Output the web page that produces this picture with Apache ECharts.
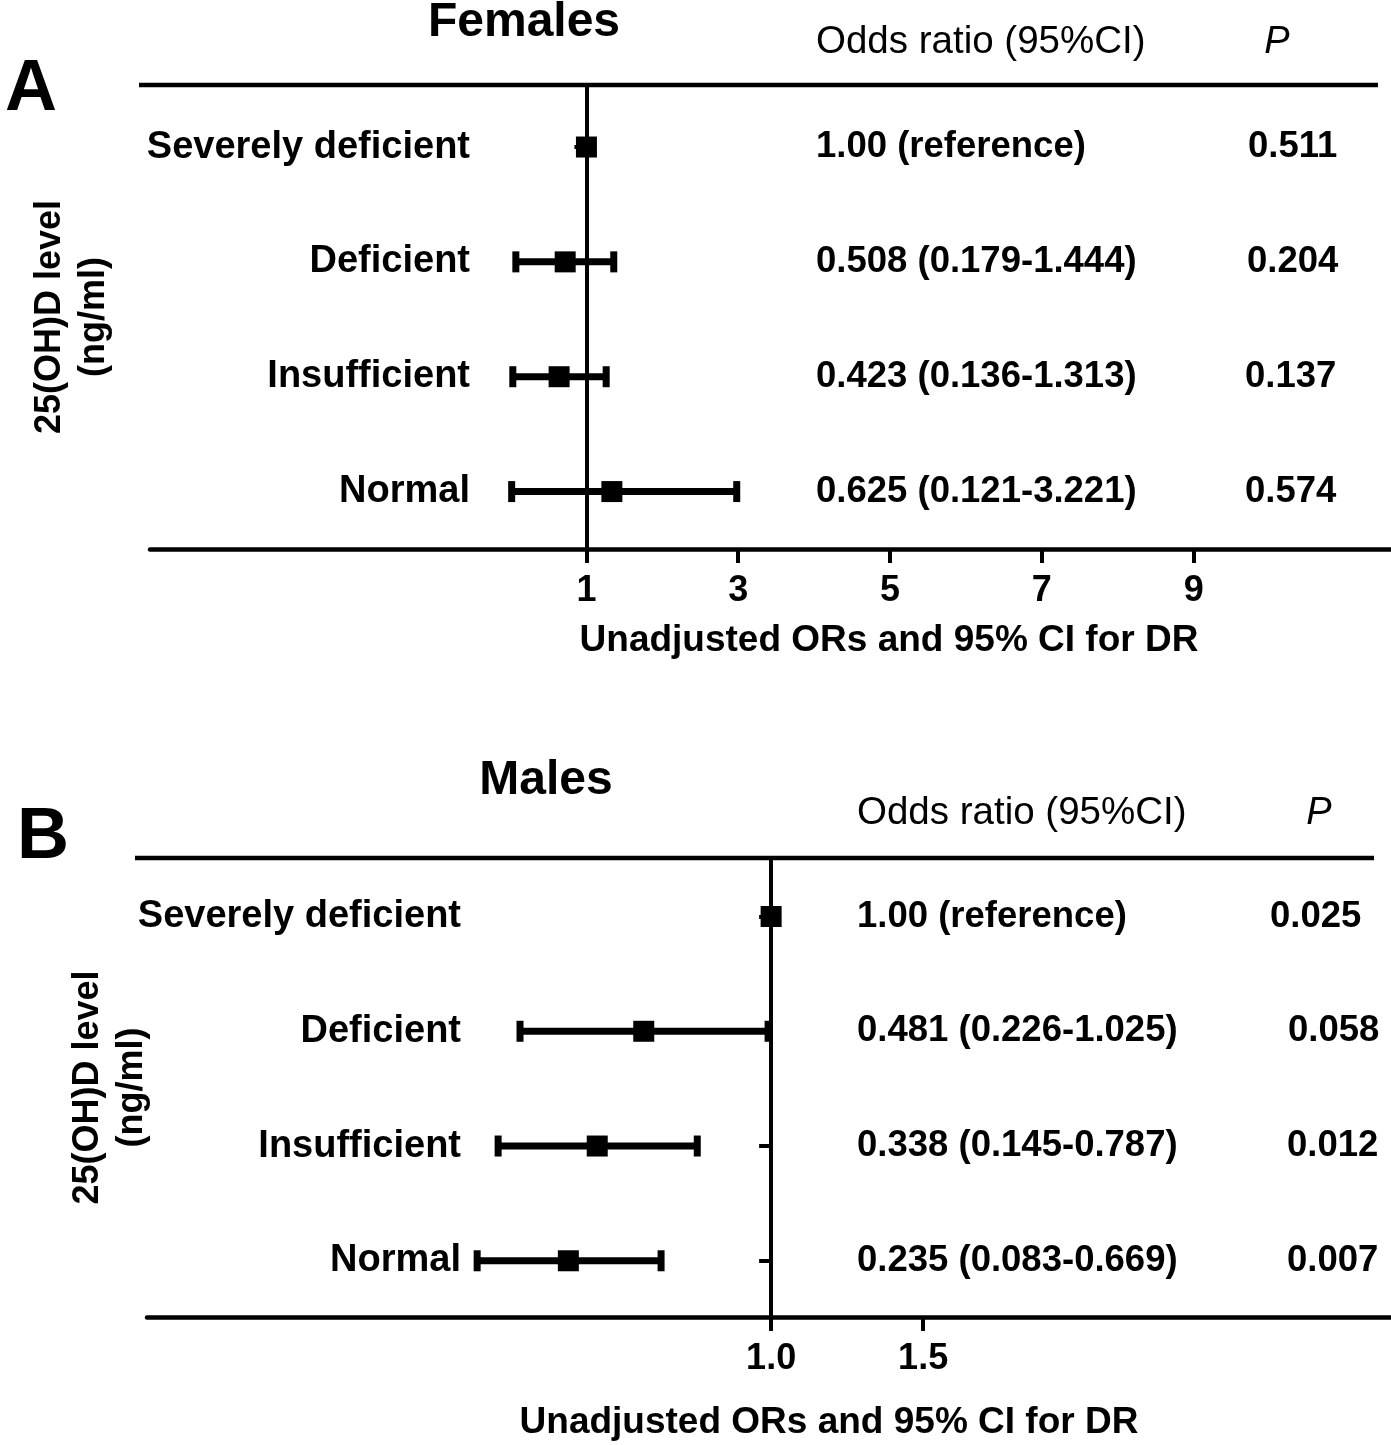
<!DOCTYPE html>
<html><head><meta charset="utf-8">
<script src="https://cdn.jsdelivr.net/npm/echarts@6/dist/echarts.min.js"></script>
<style>html,body{margin:0;padding:0;background:#fff}#c{width:1391px;height:1445px}</style>
</head><body><div id="c"></div>
<script>
// ---------- data ----------
const categories = ['Severely deficient', 'Deficient', 'Insufficient', 'Normal'];
const rows = [1, 2, 3, 4];

// Panel A (Females): plotted positions
const femaleOR   = [1.0, 0.72, 0.64, 1.335];
const femaleLow  = [null, 0.07, 0.03, 0.015];
const femaleHigh = [null, 1.36, 1.26, 2.98];
const femaleORText = ['1.00 (reference)', '0.508 (0.179-1.444)', '0.423 (0.136-1.313)', '0.625 (0.121-3.221)'];
const femaleP = ['0.511', '0.204', '0.137', '0.574'];
const femaleTicks = [1, 3, 5, 7, 9];

// Panel B (Males)
const maleOR   = [1.0, 0.581, 0.428, 0.333];
const maleLow  = [null, 0.174, 0.102, 0.033];
const maleHigh = [null, 0.99, 0.757, 0.638];
const maleORText = ['1.00 (reference)', '0.481 (0.226-1.025)', '0.338 (0.145-0.787)', '0.235 (0.083-0.669)'];
const maleP = ['0.025', '0.058', '0.012', '0.007'];
const maleTicks = [1.0, 1.5];

const axisTitle = 'Unadjusted ORs and 95% CI for DR';
const yTitle = '25(OH)D level\n(ng/ml)';

// ---------- layout ----------
const FF = "'Liberation Sans', Arial, Helvetica, sans-serif";
const W = 1391;
const panels = [
  { grid: {left: 150, top: 85, width: W - 150, height: 464}, x: {min: -4.75, max: 11.6}, y: {min: 0.46, max: 4.5},
    or: femaleOR, lo: femaleLow, hi: femaleHigh, ticks: femaleTicks, fmt: v => String(v), tickFont: 36,
    labelRight: 470, orText: femaleORText, p: femaleP, orX: 816, pXs: [1248, 1247, 1245, 1245], headerY: 42, hPx: 1277,
    title: 'Females', titleX: 524, titleY: 23, letter: 'A', letterX: 31, letterY: 90,
    ruleY: 85, ruleX1: 139, ruleX2: 1378, axTitleX: 889, axTitleY: 641, yTitleX: 72 },
  { grid: {left: 147, top: 858, width: W - 147, height: 459}, x: {min: -1.053, max: 3.039}, y: {min: 0.49, max: 4.49},
    or: maleOR, lo: maleLow, hi: maleHigh, ticks: maleTicks, fmt: v => Number(v).toFixed(1), tickFont: 36,
    labelRight: 461, orText: maleORText, p: maleP, orX: 857, pXs: [1270, 1288, 1287, 1287], headerY: 813, hPx: 1319,
    title: 'Males', titleX: 546, titleY: 781, letter: 'B', letterX: 43, letterY: 838,
    ruleY: 858, ruleX1: 135, ruleX2: 1374, axTitleX: 829, axTitleY: 1423, yTitleX: 110 }
];

function ciRender(params, api) {
  const row = api.value(2);
  const p1 = api.coord([api.value(0), row]);
  const p2 = api.coord([api.value(1), row]);
  const lw = 7, capW = 7, capH = 21;
  return { type: 'group', children: [
    { type: 'rect', shape: {x: p1[0], y: p1[1] - lw / 2, width: p2[0] - p1[0], height: lw}, style: {fill: '#000'} },
    { type: 'rect', shape: {x: p1[0] - capW / 2, y: p1[1] - capH / 2, width: capW, height: capH}, style: {fill: '#000'} },
    { type: 'rect', shape: {x: p2[0] - capW / 2, y: p2[1] - capH / 2, width: capW, height: capH}, style: {fill: '#000'} }
  ]};
}

const grid = [], xAxis = [], yAxis = [], series = [];
panels.forEach((P, i) => {
  grid.push(Object.assign({containLabel: false}, P.grid));
  xAxis.push({
    gridIndex: i, type: 'value', min: P.x.min, max: P.x.max,
    axisLine: {show: true, onZero: false, lineStyle: {color: '#000', width: 4.5}},
    axisTick: {show: true, customValues: P.ticks, length: 14, lineStyle: {color: '#000', width: 4}},
    axisLabel: {customValues: P.ticks, formatter: P.fmt, margin: 24, fontSize: P.tickFont, fontWeight: 'bold', color: '#000', fontFamily: FF},
    splitLine: {show: false}
  });
  // category label axis
  yAxis.push({
    gridIndex: i, type: 'value', position: 'left', inverse: true, min: P.y.min, max: P.y.max,
    offset: -(P.labelRight + 8 - P.grid.left),
    axisLine: {show: false}, axisTick: {show: false}, splitLine: {show: false},
    axisLabel: {customValues: rows, formatter: v => categories[Math.round(v) - 1], margin: 8,
      fontSize: 38, fontWeight: 'bold', color: '#000', fontFamily: FF}
  });
  // reference line at OR = 1
  const refOff = (1 - P.x.min) / (P.x.max - P.x.min) * P.grid.width;
  yAxis.push({
    gridIndex: i, type: 'value', position: 'left', inverse: true, min: P.y.min, max: P.y.max,
    offset: -refOff,
    axisLine: {show: true, onZero: false, lineStyle: {color: '#000', width: 4}},
    axisTick: {show: true, customValues: rows, length: 12, lineStyle: {color: '#000', width: 4}},
    axisLabel: {show: false}, splitLine: {show: false}
  });
  const ci = [];
  rows.forEach((r, k) => { if (P.lo[k] != null) ci.push([P.lo[k], P.hi[k], r]); });
  series.push({
    type: 'custom', xAxisIndex: i, yAxisIndex: i * 2, renderItem: ciRender, data: ci,
    encode: {x: [0, 1], y: 2}, z: 3, silent: true
  });
  series.push({
    type: 'scatter', xAxisIndex: i, yAxisIndex: i * 2, symbol: 'rect', symbolSize: 21,
    itemStyle: {color: '#000', opacity: 1}, data: rows.map((r, k) => [P.or[k], r]), z: 4, silent: true
  });
});

const chart = echarts.init(document.getElementById('c'), null, {renderer: 'canvas'});
chart.setOption({backgroundColor: '#fff', animation: false, grid, xAxis, yAxis, series});

// ---------- texts ----------
const graphic = [];
function txt(x, y, text, o) {
  graphic.push({type: 'text', x, y, rotation: o.rot || 0, silent: true,
    style: Object.assign({text, fill: '#000', fontFamily: FF, align: 'left', verticalAlign: 'middle'}, o.s)});
}
panels.forEach((P, i) => {
  graphic.push({type: 'line', silent: true, shape: {x1: P.ruleX1, y1: P.ruleY, x2: P.ruleX2, y2: P.ruleY},
    style: {stroke: '#000', lineWidth: 4.5}});
  txt(P.titleX, P.titleY, P.title, {s: {fontSize: 48, fontWeight: 'bold', align: 'center'}});
  txt(P.letterX, P.letterY, P.letter, {s: {fontSize: 72, fontWeight: 'bold', align: 'center'}});
  txt(P.orX, P.headerY, 'Odds ratio (95%CI)', {s: {fontSize: 38.5}});
  txt(P.hPx, P.headerY, 'P', {s: {fontSize: 38, fontStyle: 'italic', align: 'center'}});
  rows.forEach((r, k) => {
    const y = chart.convertToPixel({xAxisIndex: i, yAxisIndex: i * 2}, [1, r])[1];
    txt(P.orX, y, P.orText[k], {s: {fontSize: 36.5, fontWeight: 'bold'}});
    txt(P.pXs[k], y, P.p[k], {s: {fontSize: 36.5, fontWeight: 'bold'}});
  });
  txt(P.axTitleX, P.axTitleY, axisTitle, {s: {fontSize: 37, fontWeight: 'bold', align: 'center'}});
  const cy = P.grid.top + P.grid.height / 2;
  txt(P.yTitleX, cy, yTitle, {rot: Math.PI / 2, s: {fontSize: 36, fontWeight: 'bold', align: 'center', lineHeight: 44}});
});
chart.setOption({graphic});
</script>
</body></html>
